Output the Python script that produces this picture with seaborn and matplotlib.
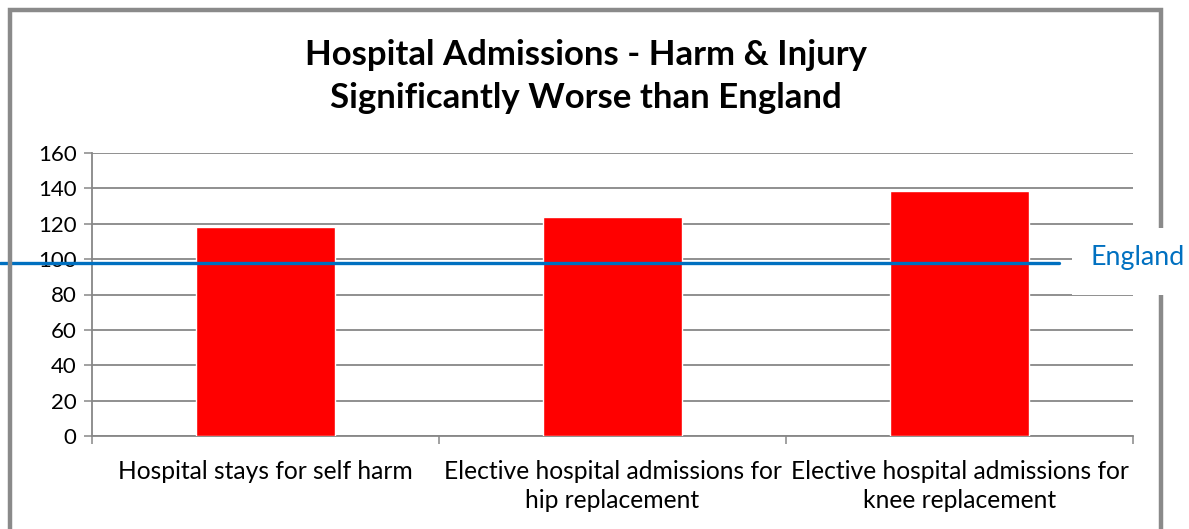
import matplotlib
matplotlib.use("Agg")
import matplotlib.pyplot as plt
from matplotlib.patches import Rectangle
import seaborn as sns
import pandas as pd

# Indicator names and their values (England = 100)
categories = [
    "Hospital stays for self harm",
    "Elective hospital admissions for\nhip replacement",
    "Elective hospital admissions for\nknee replacement",
]
values = [118.3, 123.8, 138.5]
england_value = 98
yticks = [0, 20, 40, 60, 80, 100, 120, 140, 160]
title_lines = ["Hospital Admissions - Harm & Injury", "Significantly Worse than England"]

df = pd.DataFrame({"indicator": categories, "value": values})

sns.set_theme(style="white")
plt.rcParams["font.family"] = ["Lato", "DejaVu Sans"]

W, H = 1189, 529
fig = plt.figure(figsize=(W / 100, H / 100), dpi=100)
fig.patch.set_facecolor("white")

# plot area in pixel terms
left, right, top, bottom = 92, 1133, 153, 436
ax = fig.add_axes([left / W, (H - bottom) / H, (right - left) / W, (bottom - top) / H])

grid_col = "#878787"
text_col = "#000000"
sns.barplot(data=df, x="indicator", y="value", color="#FF0000", width=0.4,
            saturation=1, ax=ax, zorder=3)

ax.set_ylim(0, 160)
ax.set_xlim(-0.5, 2.5)
ax.set_yticks(yticks)
ax.set_yticklabels([str(t) for t in yticks], fontsize=16, color=text_col)
ax.yaxis.grid(True, color=grid_col, linewidth=1.3, zorder=0)
ax.set_axisbelow(True)
ax.set_xlabel("")
ax.set_ylabel("")

for s in ["top", "right"]:
    ax.spines[s].set_visible(False)
for s in ["left", "bottom"]:
    ax.spines[s].set_color(grid_col)
    ax.spines[s].set_linewidth(1.3)

ax.tick_params(axis="y", which="major", direction="out", length=6, width=1.1,
               color=grid_col, pad=5, left=True)
ax.set_xticks([0, 1, 2])
ax.set_xticklabels(categories, fontsize=17.7, color=text_col, linespacing=1.35)
ax.set_xticks([-0.5, 0.5, 1.5, 2.5], minor=True)
ax.tick_params(axis="x", which="major", length=0, pad=17)
ax.tick_params(axis="x", which="minor", direction="out", length=6, width=1.1,
               color=grid_col, bottom=True)

# England reference line running past the axis edges
ax.axhline(england_value, xmin=(0 - left) / (right - left), xmax=(1059 - left) / (right - left),
           color="#0070C0", linewidth=2.4, clip_on=False, zorder=5)

# outer chart frame
fig.patches.append(Rectangle((10 / W, -0.05), (1161 - 10) / W, 1.05 - 10 / H,
                             transform=fig.transFigure, fill=False,
                             edgecolor="#8A8A8A", linewidth=3.2, zorder=1))

# white label box for England
fig.patches.append(Rectangle((1072 / W, (H - 295) / H), (W - 1072) / W, 67 / H,
                             transform=fig.transFigure, facecolor="white",
                             edgecolor="none", zorder=10))
fig.text(1138 / W, (H - 258) / H, "England", color="#0070C0", fontsize=19.3,
         ha="center", va="center", zorder=11)

fig.text(586 / W, (H - 55) / H, title_lines[0], fontsize=25, fontweight="bold",
         ha="center", va="center", color=text_col)
fig.text(586 / W, (H - 98) / H, title_lines[1], fontsize=25, fontweight="bold",
         ha="center", va="center", color=text_col)

fig.savefig("out.png", dpi=100, facecolor="white")
